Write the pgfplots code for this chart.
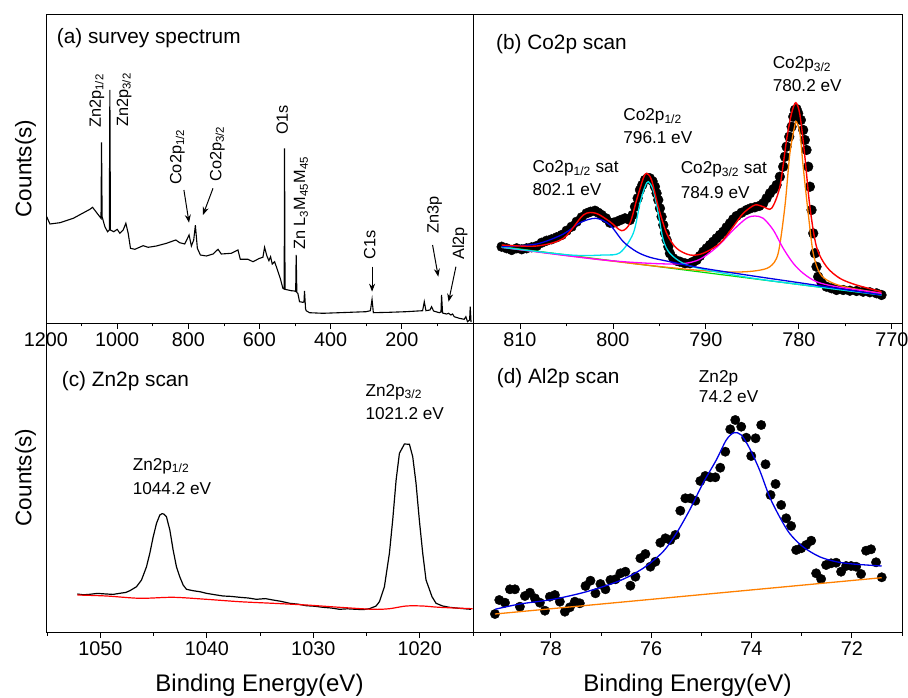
\documentclass[border=0pt]{standalone}
\usepackage{fontspec}
\setmainfont{Liberation Sans}
\usepackage{pgfplots}
\pgfplotsset{compat=1.18}
\usetikzlibrary{arrows.meta}

\definecolor{cblue}{RGB}{0,0,230}
\definecolor{ccyan}{RGB}{0,225,235}
\definecolor{cmag}{RGB}{255,0,255}
\definecolor{corange}{RGB}{255,128,0}
\definecolor{cgreen}{RGB}{0,220,0}

\newcommand{\fs}[1]{\fontsize{#1}{#1}\selectfont}

\pgfplotsset{panel/.style={
  scale only axis, height=309pt, ymin=0, ymax=309, ytick=\empty,
  x dir=reverse, tick align=outside, xtick pos=bottom,
  major tick length=6pt, minor tick length=3.5pt,
  axis line style={line width=0.8pt},
  every tick/.style={black, line width=0.8pt},
  tick label style={font=\fs{19.8}},
  /pgf/number format/assume math mode=true,
  /pgf/number format/1000 sep={},
  clip=false, clip marker paths=true,
  ylabel style={at={(axis description cs:-0.034,0.5)}, anchor=base, font=\fs{22.5}},
  xlabel style={at={(axis description cs:0.5,0)}, anchor=base, yshift=-59.7pt, font=\fs{24}},
 }}
\tikzset{
 lab/.style={anchor=base west, inner sep=0pt, font=\fs{17.2}},
 rlab/.style={anchor=base west, inner sep=0pt, font=\fs{16.3}, rotate=90},
 ttl/.style={anchor=base west, inner sep=0pt, font=\fs{20.8}},
 arr/.style={-{Stealth[length=8pt,width=6pt]}, line width=1pt},
}

\begin{document}
\begin{tikzpicture}[x=1pt,y=1pt]
\path[use as bounding box] (0,0) rectangle (908,697);

% ---------------- (a) survey
\begin{axis}[panel, at={(46pt,374pt)}, anchor=south west, width=427pt,
  xmin=0, xmax=1200, xtick={200,400,600,800,1000,1200},
  minor xtick={100,300,500,700,900,1100}, ylabel={Counts(s)}]
\addplot[black, line width=1.1pt, no marks] coordinates {
(1198.1,106.3) (1188.8,99.0) (1160.7,100.3) (1123.3,104.7) (1076.6,113.7)
(1069.1,115.7) (1059.7,111.3) (1050.4,107.0) (1045.4,104.7) (1043.9,180.7)
(1042.3,106.3) (1034.5,96.3) (1027.0,91.3) (1022.1,93.0) (1020.5,233.0)
(1018.9,93.0) (1009.3,91.3) (999.9,93.7) (992.4,89.7) (983.1,93.0)
(975.6,99.7) (969.0,89.7) (962.5,74.7) (950.3,73.7) (927.0,77.3)
(912.9,75.7) (889.6,77.0) (861.5,79.7) (835.3,83.0) (824.1,80.3)
(810.1,79.0) (797.9,88.0) (791.4,77.0) (784.9,83.0) (780.2,97.7)
(774.6,74.7) (766.2,68.0) (749.3,67.0) (730.6,69.0) (716.6,73.7)
(707.3,69.0) (679.2,69.7) (660.5,73.0) (653.9,63.7) (632.4,63.7)
(618.4,61.3) (599.7,64.7) (590.4,65.7) (585.7,75.7) (579.2,67.0)
(573.5,62.3) (568.9,66.3) (564.2,59.0) (557.6,61.3) (551.1,54.7)
(541.7,44.7) (534.3,34.7) (530.6,34) (529.6,174.7) (528.2,33.7) (510.9,32.3)
(501.6,32.0) (498.3,31.5) (496.9,68.0) (495.0,30.5) (492.2,29.7) (487.5,21.3)
(478.2,20.7) (475.0,21) (473.5,32.0) (470.5,14) (468.8,12.3) (459.5,10.3)
(422.1,9.7) (375.3,10.3) (300.5,11.3) (288.4,12.3) (283.7,23.7)
(280.0,10.3) (235.1,10.7) (188.4,11.3) (141.6,12.3) (136.9,21.3)
(132.2,12.3) (121.0,13.0) (116.4,16.3) (110.8,12.0) (94.9,10.3)
(90.0,11) (88.3,28.0) (85.5,10) (82.7,9.7) (74.3,9.0) (68.6,9.7) (62.1,8.0)
(57.4,9.0) (52.7,6.3) (38.7,4.7) (24.7,3.7) (20.0,6.3) (15.3,1.3)
(9.5,3) (7.8,16.3) (5.5,1.3) (4.0,1.3)
};
\node[ttl] at (axis description cs:0.025,0.905) {(a) survey spectrum};
\node[rlab] at (axis cs:1045.7,195.3) {Zn2p\textsubscript{1/2}};
\node[rlab] at (axis cs:969.1,196.3) {Zn2p\textsubscript{3/2}};
\node[rlab] at (axis cs:819.4,138) {Co2p\textsubscript{1/2}};
\node[rlab] at (axis cs:707.2,141.3) {Co2p\textsubscript{3/2}};
\node[rlab] at (axis cs:520.3,188) {O1s};
\node[rlab] at (axis cs:471.5,73) {Zn L\textsubscript{3}M\textsubscript{45}M\textsubscript{45}};
\node[rlab] at (axis cs:274.3,63.7) {C1s};
\node[rlab] at (axis cs:96.8,89.7) {Zn3p};
\node[rlab] at (axis cs:24.7,63) {Al2p};
\draw[arr] (axis cs:812.4,133) -- (axis cs:798.0,100.3);
\draw[arr] (axis cs:730.7,134.7) -- (axis cs:758.8,108);
\draw[arr] (axis cs:283.6,56.3) -- (axis cs:283.6,31.3);
\draw[arr] (axis cs:113.6,78) -- (axis cs:97.6,46.3);
\draw[arr] (axis cs:48.0,56.3) -- (axis cs:68.7,21.3);
\end{axis}

% ---------------- (b) Co2p
\begin{axis}[panel, at={(473pt,374pt)}, anchor=south west, width=429pt,
  xmin=768.9, xmax=815.05, xtick={770,780,790,800,810},
  minor xtick={775,785,795,805}]
\addplot[only marks, mark=*, mark size=4.9pt, black] coordinates {
(811.97,76.3) (811.43,74.7) (810.89,73) (810.35,74.7) (809.81,73.7)
(809.28,74.7) (808.74,75.7) (808.20,77) (807.66,80.3) (807.13,82.3)
(806.59,83.7) (806.05,85.7) (805.51,88) (804.98,92.3) (804.44,96.3)
(803.90,101.3) (803.36,105.7) (802.83,109.7) (802.40,111.3) (801.93,112.3)
(801.57,110.3) (801.21,108) (800.75,104.7) (800.32,100.3) (799.96,100.3)
(799.60,101.3) (799.17,103) (798.70,104.7) (798.17,103) (797.88,108)
(797.63,116.3) (797.34,124.7) (797.09,133) (796.84,138) (796.55,143)
(796.27,145) (796.02,144.7) (795.73,141.7) (795.48,136.3) (795.30,129.7)
(795.12,123) (794.94,114.7) (794.76,106.3) (794.58,98) (794.40,89.7)
(794.22,83) (794.04,76.3) (793.87,69.7) (793.51,64.7) (793.15,62.3)
(792.79,61.3) (792.25,59.7) (791.71,59.7) (791.36,61.3) (791.00,63)
(790.64,67) (790.28,71.3) (789.92,74.7) (789.56,78) (789.21,81.3)
(788.85,84.7) (788.49,88) (788.13,91.3) (787.77,95.7) (787.41,99.7)
(787.06,103.7) (786.70,107) (786.16,110.3) (785.62,113) (785.19,114.7)
(784.73,115.7) (784.26,117) (783.83,119.7) (783.47,124.7) (783.11,129.7)
(782.75,133.7) (782.39,138) (782.04,146.3) (781.68,156.3) (781.50,166.3)
(781.32,176.3) (781.03,186.3) (780.78,196.3) (780.60,206.3) (780.42,213)
(780.25,214) (780.07,209.7) (779.78,203) (779.53,193) (779.35,183)
(779.17,173) (778.99,156.3) (778.81,136.3) (778.63,113) (778.45,89.7)
(778.27,69.7) (778.10,56.3) (777.92,46.3) (777.56,40.3) (777.02,36.3)
(776.48,34.7) (775.94,33) (775.23,33) (774.51,32.3) (773.79,32)
(773.08,31.3) (772.36,30.7) (771.64,29.7) (771.10,28)
};
% baseline
\addplot[cgreen, line width=1.2pt, no marks] coordinates {(811.97,76.3) (771.1,28)};
% orange 780.2
\addplot[corange, line width=1.3pt, no marks, smooth] coordinates {
(811.97,75.7) (797.45,59) (790.28,52.3) (786.7,51) (784.55,52.3) (783.11,56.3)
(782.22,69.7) (781.5,116.3) (780.96,169.7) (780.42,198) (780.25,201.3)
(779.88,189.7) (779.53,156.3) (778.99,109.7) (778.45,69.7) (777.74,49.7)
(776.66,41.3) (774.87,35.7) (771.1,29.7)};
% magenta 784.9
\addplot[cmag, line width=1.3pt, no marks, smooth] coordinates {
(811.97,75.7) (801.03,63) (793.87,59) (791.0,62.3) (788.85,75.7) (787.06,93)
(785.62,104.7) (784.73,107) (783.83,104.7) (782.75,93) (781.68,74.7)
(780.6,59.7) (779.53,49.7) (778.1,41.3) (775.94,36.3) (771.1,29.7)};
% cyan 796.1
\addplot[ccyan, line width=1.3pt, no marks, smooth] coordinates {
(811.97,75.7) (804.62,68) (801.03,68) (799.24,70.3) (797.81,89.7)
(797.09,119.7) (796.55,136.3) (796.19,141.3) (795.66,133) (795.12,109.7)
(794.58,83) (793.87,69.7) (792.43,59.7) (790.28,53.7) (784.9,44.7)
(779.53,38) (771.1,28)};
% blue 802.1
\addplot[cblue, line width=1.3pt, no marks, smooth] coordinates {
(811.97,76.3) (808.2,79) (805.33,89) (803.54,100.3) (801.82,104.7)
(800.32,98) (798.88,81.3) (797.45,71.3) (796.02,65.7) (793.87,61.3)
(790.28,54.7) (784.9,47) (779.53,39.7) (771.1,28)};
% red envelope
\addplot[red, line width=1.4pt, no marks, smooth] coordinates {
(811.97,78) (808.2,77) (805.33,84.7) (803.18,108) (801.82,109.7)
(800.32,101.3) (799.06,92.3) (798.17,99.7) (797.45,123) (796.73,144.7)
(796.37,149.7) (795.84,143) (795.12,116.3) (794.22,89.7) (793.15,74.7)
(791.71,68) (790.28,69.7) (788.49,79.7) (787.06,96.3) (785.98,109.7)
(784.73,118) (783.83,116.3) (782.93,114.7) (782.04,136.3) (781.32,183)
(780.78,209.7) (780.32,220.3) (779.88,208) (779.35,166.3) (778.81,116.3)
(778.1,76.3) (777.02,56.3) (775.59,44.7) (773.8,38) (771.1,31.3)};
\node[ttl] at (axis description cs:0.0536,0.886) {(b) Co2p scan};
\node[lab] at (axis cs:782.82,254.7) {Co2p\textsubscript{3/2}};
\node[lab] at (axis cs:782.82,231.3) {780.2 eV};
\node[lab] at (axis cs:798.89,202.3) {Co2p\textsubscript{1/2}};
\node[lab] at (axis cs:798.89,179) {796.1 eV};
\node[lab] at (axis cs:808.67,150.7) {Co2p\textsubscript{1/2} sat};
\node[lab] at (axis cs:808.67,127) {802.1 eV};
\node[lab] at (axis cs:792.72,149.7) {Co2p\textsubscript{3/2} sat};
\node[lab] at (axis cs:792.72,124.7) {784.9 eV};
\end{axis}

% ---------------- (c) Zn2p
\begin{axis}[panel, at={(46pt,65pt)}, anchor=south west, width=427pt,
  xmin=1015.0, xmax=1055.1, xtick={1020,1030,1040,1050},
  minor xtick={1015,1025,1035,1045,1055},
  ylabel={Counts(s)}, xlabel={Binding Energy(eV)}]
\addplot[black, line width=1.2pt, no marks] coordinates {
(1052.16,38) (1051.6,37.2) (1050.97,37.7) (1050.3,38.6) (1049.41,38) (1048.8,37.6)
(1048.16,38.7) (1047.6,39.6) (1047.22,41.3) (1046.6,45.3) (1046.13,52)
(1045.66,65.3) (1045.35,78.7) (1045.03,95.3) (1044.72,108.7) (1044.41,117)
(1044.2,118.3) (1044.04,118) (1043.79,115.3) (1043.47,102) (1043.16,82)
(1042.85,65.3) (1042.54,55.3) (1042.22,47) (1041.91,42.7) (1041.29,41.3)
(1040.6,40.2) (1040.04,38.7) (1039.2,37.2) (1038.47,36) (1037.7,35.6)
(1036.91,34.7) (1036.1,34.0) (1035.35,32.7) (1034.5,33.4) (1033.79,32)
(1033.0,30.6) (1032.22,28.7) (1031.4,27.8) (1030.66,26.3) (1029.9,25.8)
(1029.1,24.7) (1028.3,24.0) (1027.54,22.7) (1026.8,23.2) (1025.97,22.7)
(1025.3,22.4) (1024.72,23.3) (1024.1,26) (1023.79,30.3) (1023.32,45.3)
(1022.85,78.7) (1022.54,112) (1022.22,152) (1021.91,178.7) (1021.44,188)
(1020.97,187.7) (1020.66,175.3) (1020.35,148.7) (1020.04,112)
(1019.72,78.7) (1019.41,52) (1018.85,35.3) (1018.47,28.7) (1017.85,26)
(1017.22,24.7) (1016.29,23.7) (1015.19,22.7)};
\addplot[red, line width=1.2pt, no marks, smooth] coordinates {
(1052.16,37) (1049.41,36) (1046.28,33.7) (1043.16,34.7) (1040.04,32.7)
(1036.91,30.3) (1033.79,28.7) (1030.66,27) (1027.54,24.7) (1024.41,22.7)
(1022.85,23.3) (1021.28,26) (1019.72,26) (1018.16,24.7) (1015.04,23.3)};
\node[ttl] at (axis description cs:0.0368,0.794) {(c) Zn2p scan};
\node[lab] at (axis cs:1025.11,236) {Zn2p\textsubscript{3/2}};
\node[lab] at (axis cs:1025.11,213) {1021.2 eV};
\node[lab] at (axis cs:1046.97,162) {Zn2p\textsubscript{1/2}};
\node[lab] at (axis cs:1046.97,138) {1044.2 eV};
\end{axis}

% ---------------- (d) Al2p
\begin{axis}[panel, at={(473pt,65pt)}, anchor=south west, width=429pt,
  xmin=71.0, xmax=79.55, xtick={72,74,76,78},
  minor xtick={71,73,75,77,79}, xlabel={Binding Energy(eV)}]
\addplot[only marks, mark=*, mark size=4.7pt, black] coordinates {
(79.112,18) (79.026,32) (78.913,29.3) (78.814,42.7) (78.714,42.7)
(78.615,25.3) (78.515,36) (78.416,39.3) (78.316,33.7) (78.217,29.3)
(78.117,21.3) (78.018,35.3) (77.918,37) (77.819,30.3) (77.719,20.3)
(77.62,24.7) (77.52,30.3) (77.421,28.7) (77.308,46) (77.209,51.3)
(77.109,38.7) (77.01,48) (76.91,42.7) (76.811,52) (76.711,52.7)
(76.612,58.7) (76.512,60.3) (76.413,46.3) (76.313,55.3) (76.214,73.7)
(76.114,78) (76.015,65.3) (75.915,70.3) (75.816,89.3) (75.716,93.7)
(75.617,92) (75.517,97) (75.418,121.3) (75.318,133.7) (75.219,133.7)
(75.119,131.3) (75.02,151) (74.92,156) (74.821,154.7) (74.721,154.7)
(74.622,164.3) (74.522,180.3) (74.423,202.7) (74.323,212) (74.204,205.3)
(74.104,194.3) (74.005,176) (73.918,193.7) (73.806,207) (73.72,167.7)
(73.62,137) (73.52,148) (73.408,127) (73.308,113.7) (73.209,106)
(73.109,82) (73.01,83.7) (72.91,87) (72.81,91.3) (72.711,58.7)
(72.612,53) (72.512,67) (72.413,68.7) (72.313,69.3) (72.214,60.3)
(72.114,66) (72.014,66) (71.915,65.3) (71.816,58) (71.716,81.3)
(71.617,82.7) (71.517,69.7) (71.404,54.7)};
\addplot[corange, line width=1.3pt, no marks] coordinates {(79.112,18) (71.404,54.3)};
\addplot[cblue, line width=1.3pt, no marks, smooth] coordinates {
(79.112,22.7) (78.615,28) (77.952,32.7) (77.288,40.3) (76.625,51.3)
(76.161,63.7) (75.763,80.3) (75.497,98.7) (75.232,122) (74.967,148.7)
(74.701,172) (74.502,192) (74.35,199.3) (74.204,197) (74.038,183.7)
(73.839,162) (73.64,135.3) (73.441,115.3) (73.242,98.7) (72.977,85.3)
(72.645,75.3) (72.313,70.3) (71.981,68) (71.404,66)};
\node[ttl] at (axis description cs:0.0552,0.805) {(d) Al2p scan};
\node[lab] at (axis cs:75.05,249.7) {Zn2p};
\node[lab] at (axis cs:75.05,229.3) {74.2 eV};
\end{axis}
\end{tikzpicture}
\end{document}
